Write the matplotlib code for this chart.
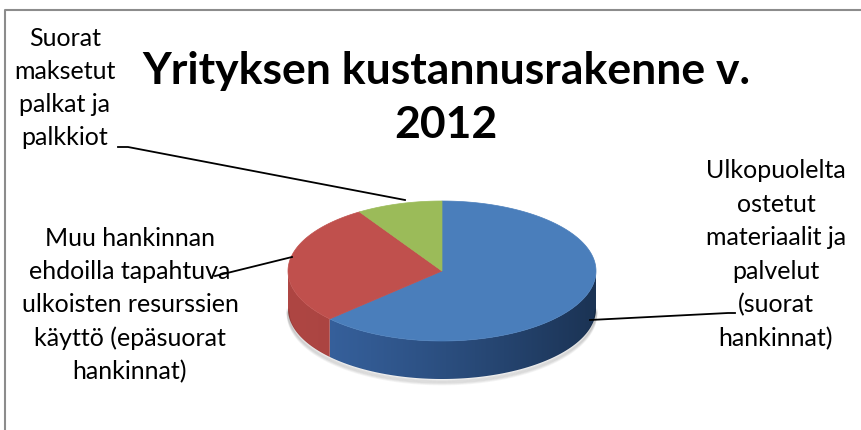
import numpy as np
import matplotlib
matplotlib.use("Agg")
import matplotlib.pyplot as plt
from matplotlib.patches import Polygon
from matplotlib.colors import LinearSegmentedColormap

# data (shares of costs, %)
labels = [
    "Ulkopuolelta\nostetut\nmateriaalit ja\npalvelut\n(suorat\nhankinnat)",
    "Muu hankinnan\nehdoilla tapahtuva\nulkoisten resurssien\nkäyttö (epäsuorat\nhankinnat)",
    "Suorat\nmaksetut\npalkat ja\npalkkiot",
]
values = [63, 28, 9]
top_colors = ["#4a7ebb", "#c0504d", "#9bbb59"]
side_light = ["#3864a2", "#ae4643", "#86a34a"]
side_dark = ["#1b3354", "#8c3533", "#6b8438"]
title = "Yrityksen kustannusrakenne v.\n2012"

# pie geometry in pixel space
cx, cy = 442, 271
ra, rb = 154, 70
depth = 38


def ell(t, dy=0.0):
    t = np.radians(t)
    return cx + ra * np.cos(t), cy - rb * np.sin(t) + dy


fig = plt.figure(figsize=(8.62, 4.30), dpi=100)
ax = fig.add_axes([0, 0, 1, 1])
ax.set_xlim(0, 862)
ax.set_ylim(430, 0)
ax.axis("off")

# frame
ax.plot([5, 5, 862], [430, 10, 10], color="#8c8c8c", lw=1.5)

# slice angles: start at 12 o'clock, clockwise
total = sum(values)
angles = []
start = 90.0
for v in values:
    end = start - 360.0 * v / total
    angles.append((end, start))
    start = end

# soft shadow under the pie
for k in range(6):
    tt = np.linspace(180, 360, 100)
    xs, ys = ell(tt, depth + 1 + k * 0.8)
    ax.plot(xs, ys, color="black", alpha=0.04, lw=2)

# side walls (front half only), shaded with a horizontal gradient
xg = np.linspace(cx - ra, cx + ra, 400)
ug = ((xg - (cx - ra)) / (2 * ra)) ** 1.2
for (t1, t2), cl, cd in zip(angles, side_light, side_dark):
    lo, hi = max(t1, -180), min(t2, 0)
    if lo >= hi:
        continue
    tt = np.linspace(lo, hi, 200)
    xt, yt = ell(tt)
    xb, yb = ell(tt[::-1], depth)
    side = Polygon(np.column_stack([np.r_[xt, xb], np.r_[yt, yb]]),
                   closed=True, fc="none", ec="none")
    ax.add_patch(side)
    cmap = LinearSegmentedColormap.from_list("s", [cl, cd])
    im = ax.imshow(ug[np.newaxis, :], cmap=cmap, aspect="auto",
                   extent=[cx - ra, cx + ra, cy + rb + depth + 2, cy - rb - 2],
                   interpolation="bilinear")
    im.set_clip_path(side)

# top faces
for (t1, t2), c in zip(angles, top_colors):
    tt = np.linspace(t1, t2, 200)
    xs, ys = ell(tt)
    pts = np.column_stack([np.r_[cx, xs], np.r_[cy, ys]])
    ax.add_patch(Polygon(pts, closed=True, fc=c, ec=c, lw=0.5, zorder=3))

ax.set_xlim(0, 862)
ax.set_ylim(430, 0)

font = "Lato"

# title
ax.text(446, 98, title, ha="center", va="center", fontsize=32, fontweight="bold",
        family=font, linespacing=1.4)

# labels with leader lines
ax.text(776, 255, labels[0], ha="center", va="center", fontsize=18, family=font,
        linespacing=1.55)
ax.plot([590, 728, 735], [320, 313, 313], color="black", lw=1.3, zorder=4)

ax.text(130, 305, labels[1], ha="center", va="center", fontsize=18, family=font,
        linespacing=1.52)
ax.plot([215, 292], [276, 257], color="black", lw=1.3, zorder=4)

ax.text(65, 88, labels[2], ha="center", va="center", fontsize=18, family=font,
        linespacing=1.52)
ax.plot([118, 128, 405], [147, 147, 200], color="black", lw=1.3, zorder=4)

fig.savefig("out.png", dpi=100, facecolor="white")
